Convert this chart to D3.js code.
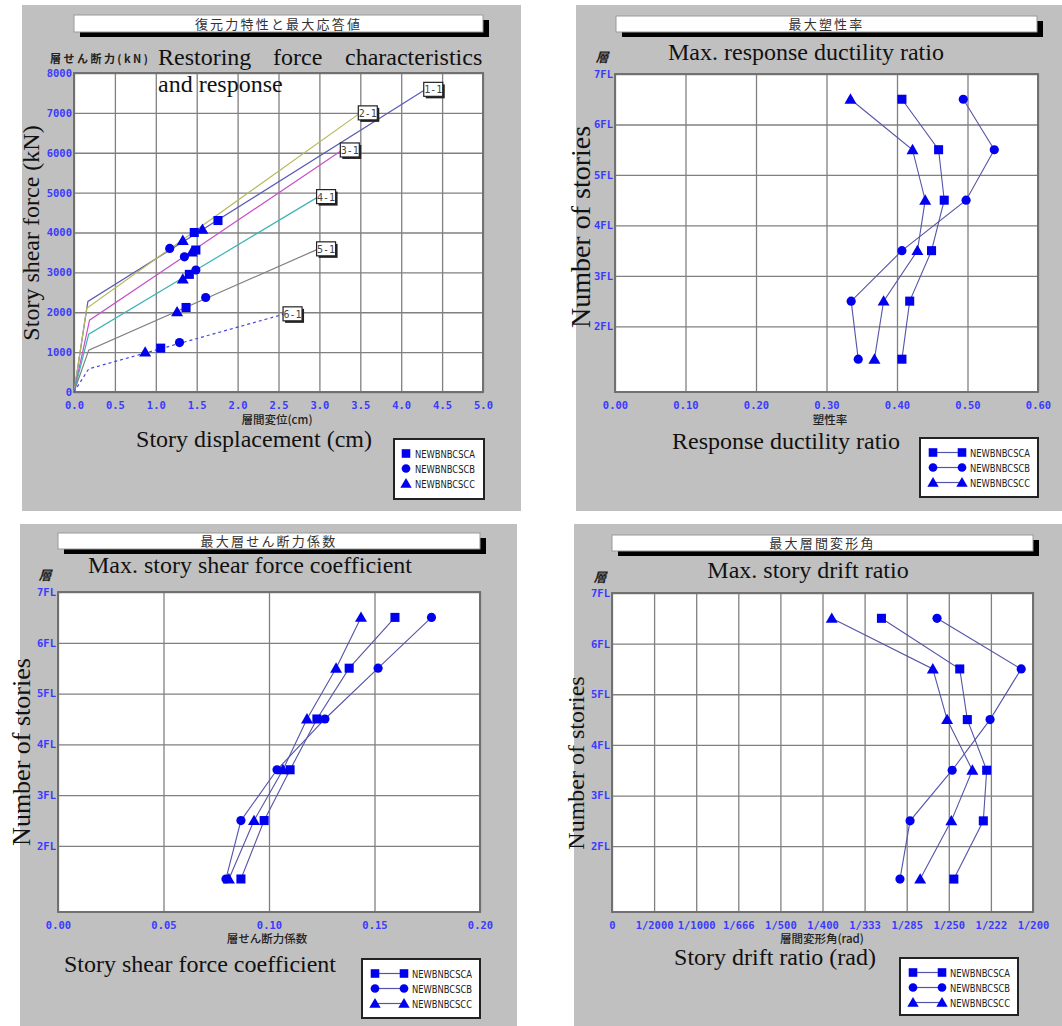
<!DOCTYPE html>
<html>
<head>
<meta charset="utf-8">
<script src="https://cdn.jsdelivr.net/npm/d3@7"></script>
<style>
  body { margin: 0; background: #fff; }
  svg { display: block; }
  .tick text { font-family: "DejaVu Sans Mono", monospace; font-weight: bold; font-size: 10.5px; fill: #3a3aff; }
  .tick line { stroke: #808080; stroke-width: 1.3; }
</style>
</head>
<body>
<svg id="chart" width="1062" height="1026"></svg>
<script>
// ---- data ----
const seriesNames = ["NEWBNBCSCA", "NEWBNBCSCB", "NEWBNBCSCC"];

// restoring force curves: displacement (cm), shear (kN)
const curveNames = ["1-1", "2-1", "3-1", "4-1", "5-1", "6-1"];
const curve11 = [[0, 0], [0.17, 2270], [4.30, 7590]];
const curve21 = [[0, 0], [0.155, 2100], [3.50, 7000]];
const curve31 = [[0, 0], [0.19, 1800], [3.28, 6070]];
const curve41 = [[0, 0], [0.18, 1450], [2.99, 4900]];
const curve51 = [[0, 0], [0.18, 1050], [2.99, 3590]];
const curve61 = [[0, 0], [0.18, 580], [2.58, 1960]];
const curveColors = ["#5a5ab8", "#b8b85a", "#c850c8", "#3cb4b4", "#808080", "#4646dc"];

// max response on the curves
const respA = [[1.76, 4300], [1.47, 4000], [1.49, 3560], [1.41, 2950], [1.37, 2120], [1.06, 1100]];
const respB = [[1.17, 3600], [1.35, 3390], [1.49, 3060], [1.61, 2370], [1.29, 1240]];
const respC = [[1.57, 4080], [1.33, 3800], [1.44, 3510], [1.33, 2830], [1.26, 2010], [0.87, 1000]];

// floors (1st story taller)
const floorLabels = ["1FL", "2FL", "3FL", "4FL", "5FL", "6FL", "7FL"];
const floorElev = [0, 1.3, 2.3, 3.3, 4.3, 5.3, 6.3];

// values per story, story 1 .. story 6
const ductA = [0.407, 0.418, 0.449, 0.467, 0.459, 0.407];
const ductB = [0.345, 0.335, 0.407, 0.498, 0.538, 0.494];
const ductC = [0.368, 0.381, 0.429, 0.440, 0.422, 0.334];

const coefA = [0.0867, 0.0977, 0.110, 0.1227, 0.138, 0.1597];
const coefB = [0.0796, 0.0867, 0.1038, 0.1265, 0.1517, 0.177];
const coefC = [0.081, 0.0929, 0.1066, 0.118, 0.1318, 0.1436];

const driftA = [0.00406, 0.00441, 0.00445, 0.00422, 0.00413, 0.00320];
const driftB = [0.00342, 0.00354, 0.00404, 0.00449, 0.00486, 0.00386];
const driftC = [0.00366, 0.00403, 0.00428, 0.00398, 0.00381, 0.00261];

const dispTicks = [0, 0.5, 1, 1.5, 2, 2.5, 3, 3.5, 4, 4.5, 5];
const shearTicks = [0, 1000, 2000, 3000, 4000, 5000, 6000, 7000, 8000];
const ductTicks = [0, 0.1, 0.2, 0.3, 0.4, 0.5, 0.6];
const coefTicks = [0, 0.05, 0.1, 0.15, 0.2];
const driftTicks = [0, 0.0005, 0.001, 0.0015, 0.002, 0.0025, 0.003, 0.0035, 0.004, 0.0045, 0.005];
const driftTickLabels = ["0", "1/2000", "1/1000", "1/666", "1/500", "1/400", "1/333", "1/285", "1/250", "1/222", "1/200"];

// ---- drawing ----
const svg = d3.select("#chart");
const shapes = [d3.symbolSquare, d3.symbolCircle, d3.symbolTriangle];
const shapeSize = [82, 66, 62];
const markColor = "#0000ee";
const lineColor = "#5454a8";
const serif = "'Liberation Serif', 'Times New Roman', serif";
const jp = "'Noto Sans CJK JP', sans-serif";

function panelBg(x0, y0, x1, y1) {
  svg.append("rect").attr("x", x0).attr("y", y0).attr("width", x1 - x0).attr("height", y1 - y0)
    .attr("fill", "#c0c0c0");
}

function titleBox(x0, y0, x1, y1, txt) {
  svg.append("rect").attr("x", x0 + 6).attr("y", y0 + 5).attr("width", x1 - x0).attr("height", y1 - y0)
    .attr("fill", "#000");
  svg.append("rect").attr("x", x0).attr("y", y0).attr("width", x1 - x0).attr("height", y1 - y0)
    .attr("fill", "#fff").attr("stroke", "#999").attr("stroke-width", 1);
  svg.append("text").attr("x", (x0 + x1) / 2).attr("y", y1 - 3.5)
    .attr("text-anchor", "middle").attr("font-family", jp).attr("font-size", 13)
    .attr("letter-spacing", 2.2).attr("fill", "#333").text(txt);
}

function bigText(x, y, txt, anchor, size) {
  return svg.append("text").attr("x", x).attr("y", y).attr("text-anchor", anchor || "middle")
    .attr("font-family", serif).attr("font-size", size || 24).attr("fill", "#111").text(txt);
}

function vertText(cx, cy, txt, size) {
  svg.append("text").attr("transform", `translate(${cx},${cy}) rotate(-90)`)
    .attr("text-anchor", "middle").attr("dy", "0.35em")
    .attr("font-family", serif).attr("font-size", size || 24).attr("fill", "#111").text(txt);
}

function jpText(x, y, txt, anchor, size) {
  return svg.append("text").attr("x", x).attr("y", y).attr("text-anchor", anchor || "middle")
    .attr("font-family", jp).attr("font-size", size || 11.5).attr("font-weight", 500)
    .attr("fill", "#222").text(txt);
}

function plotArea(box, xScale, yScale, xTicks, xFmt, yTicks, yFmt) {
  const g = svg.append("g");
  g.append("rect").attr("x", box.x0).attr("y", box.y0)
    .attr("width", box.x1 - box.x0).attr("height", box.y1 - box.y0).attr("fill", "#fff");
  const ax = g.append("g").attr("transform", `translate(0,${box.y1})`)
    .call(d3.axisBottom(xScale).tickValues(xTicks).tickFormat(xFmt)
      .tickSize(-(box.y1 - box.y0)).tickPadding(10));
  ax.select(".domain").remove();
  const ay = g.append("g").attr("transform", `translate(${box.x0},0)`)
    .call(d3.axisLeft(yScale).tickValues(yTicks).tickFormat(yFmt)
      .tickSize(-(box.x1 - box.x0)).tickPadding(2));
  ay.select(".domain").remove();
  g.append("rect").attr("x", box.x0).attr("y", box.y0)
    .attr("width", box.x1 - box.x0).attr("height", box.y1 - box.y0)
    .attr("fill", "none").attr("stroke", "#707070").attr("stroke-width", 2);
  return g;
}

function legend(x0, y0, x1, y1, withLines) {
  svg.append("rect").attr("x", x0).attr("y", y0).attr("width", x1 - x0).attr("height", y1 - y0)
    .attr("fill", "#fff").attr("stroke", "#222").attr("stroke-width", 2);
  seriesNames.forEach((name, i) => {
    const cy = y0 + 14.5 + i * 15;
    const sym = d3.symbol().type(shapes[i]).size(shapeSize[i] * 0.9);
    let tx;
    if (withLines) {
      const mx0 = x0 + 13, mx1 = x0 + 42;
      svg.append("line").attr("x1", mx0).attr("x2", mx1).attr("y1", cy).attr("y2", cy)
        .attr("stroke", lineColor).attr("stroke-width", 1.2);
      [mx0, mx1].forEach(mx => svg.append("path").attr("d", sym())
        .attr("transform", `translate(${mx},${cy + (i === 2 ? 1 : 0)})`).attr("fill", markColor));
      tx = x0 + 50;
    } else {
      svg.append("path").attr("d", sym())
        .attr("transform", `translate(${x0 + 12},${cy + (i === 2 ? 1 : 0)})`).attr("fill", markColor);
      tx = x0 + 21;
    }
    svg.append("text").attr("x", tx).attr("y", cy + 4)
      .attr("font-family", "'DejaVu Sans Condensed', 'DejaVu Sans', sans-serif")
      .attr("font-size", 11).attr("textLength", 60).attr("lengthAdjust", "spacingAndGlyphs")
      .attr("fill", "#202020").text(name);
  });
}

function storyPanel(box, xScale, xTicks, xFmt, vals) {
  const yScale = d3.scaleLinear().domain([floorElev[0], floorElev[floorElev.length - 1]]).range([box.y1, box.y0]);
  const g = plotArea(box, xScale, yScale, xTicks, xFmt, floorElev.slice(1), (d, i) => floorLabels[i + 1]);
  const mids = d3.range(floorElev.length - 1).map(i => (floorElev[i] + floorElev[i + 1]) / 2);
  const line = d3.line().x(d => xScale(d[0])).y(d => yScale(d[1]));
  vals.forEach((v, s) => {
    const pts = v.map((d, i) => [d, mids[i]]);
    g.append("path").attr("d", line(pts)).attr("fill", "none")
      .attr("stroke", lineColor).attr("stroke-width", 1.1);
  });
  vals.forEach((v, s) => {
    const sym = d3.symbol().type(shapes[s]).size(shapeSize[s]);
    g.selectAll(null).data(v).enter().append("path").attr("d", sym())
      .attr("transform", (d, i) => `translate(${xScale(d)},${yScale(mids[i]) + (s === 2 ? 1 : 0)})`)
      .attr("fill", markColor);
  });
}

// ---------- panel 1: restoring force ----------
panelBg(22, 5, 521, 511);
titleBox(74, 15, 483, 32, "復元力特性と最大応答値");
{
  const box = { x0: 74, y0: 73, x1: 483, y1: 392 };
  const x = d3.scaleLinear().domain([0, 5]).range([box.x0, box.x1]);
  const y = d3.scaleLinear().domain([0, 8000]).range([box.y1, box.y0]);
  const g = plotArea(box, x, y, dispTicks, d3.format(".1f"), shearTicks, d3.format("d"));
  const curves = [curve11, curve21, curve31, curve41, curve51, curve61];
  const line = d3.line().x(d => x(d[0])).y(d => y(d[1]));
  curves.forEach((c, i) => {
    g.append("path").attr("d", line(c)).attr("fill", "none").attr("stroke", curveColors[i])
      .attr("stroke-width", 1.2).attr("stroke-dasharray", i === 5 ? "3,3" : null);
  });
  curves.forEach((c, i) => {
    const end = c[c.length - 1];
    const bx = x(end[0]) - 2, by = y(end[1]) - 7;
    g.append("rect").attr("x", bx + 2).attr("y", by + 2).attr("width", 19).attr("height", 14).attr("fill", "#222");
    g.append("rect").attr("x", bx).attr("y", by).attr("width", 19).attr("height", 14)
      .attr("fill", "#fff").attr("stroke", "#222").attr("stroke-width", 1.2);
    g.append("text").attr("x", bx + 9.5).attr("y", by + 11).attr("text-anchor", "middle")
      .attr("font-family", "'DejaVu Sans Mono', monospace").attr("font-size", 10)
      .attr("fill", "#444").text(curveNames[i]);
  });
  [respA, respB, respC].forEach((r, s) => {
    const sym = d3.symbol().type(shapes[s]).size(shapeSize[s]);
    g.selectAll(null).data(r).enter().append("path").attr("d", sym())
      .attr("transform", d => `translate(${x(d[0])},${y(d[1]) + (s === 2 ? 1 : 0)})`)
      .attr("fill", markColor);
  });
}
jpText(50, 63, "層せん断力(kN)", "start", 11).attr("font-weight", "bold").attr("textLength", 98);
bigText(158, 65, "Restoring", "start");
bigText(273, 65, "force", "start");
bigText(345, 65, "characteristics", "start");
bigText(158, 92, "and response", "start");
vertText(31, 233, "Story shear force (kN)");
jpText(277, 424, "層間変位(cm)");
bigText(254, 447, "Story displacement (cm)");
legend(394, 439, 484, 499, false);

// ---------- panel 2: ductility ----------
panelBg(576, 5, 1062, 511);
titleBox(616, 16, 1037, 32, "最大塑性率");
storyPanel({ x0: 615, y0: 74, x1: 1038, y1: 392 },
  d3.scaleLinear().domain([0, 0.6]).range([615, 1038]), ductTicks, d3.format(".2f"),
  [ductA, ductB, ductC]);
jpText(602, 62, "層", "middle", 13).attr("font-weight", "bold").attr("font-style", "italic");
bigText(806, 60, "Max. response ductility ratio");
vertText(580, 227, "Number of stories", 28);
jpText(830, 424, "塑性率");
bigText(786, 449, "Response ductility ratio");
legend(920, 438, 1038, 497, true);

// ---------- panel 3: shear coefficient ----------
panelBg(20, 524, 517, 1026);
titleBox(58, 533, 480, 549, "最大層せん断力係数");
storyPanel({ x0: 58, y0: 592, x1: 480, y1: 912 },
  d3.scaleLinear().domain([0, 0.2]).range([58, 480]), coefTicks, d3.format(".2f"),
  [coefA, coefB, coefC]);
jpText(45, 580, "層", "middle", 13).attr("font-weight", "bold").attr("font-style", "italic");
bigText(250, 573, "Max. story shear force coefficient");
vertText(21, 752, "Number of stories", 26);
jpText(267, 943, "層せん断力係数");
bigText(200, 972, "Story shear force coefficient");
legend(362, 959, 480, 1018, true);

// ---------- panel 4: drift ratio ----------
panelBg(574, 524, 1062, 1026);
titleBox(612, 535, 1033, 551, "最大層間変形角");
storyPanel({ x0: 612, y0: 593, x1: 1033, y1: 912 },
  d3.scaleLinear().domain([0, 0.005]).range([612, 1033]), driftTicks, (d, i) => driftTickLabels[i],
  [driftA, driftB, driftC]);
jpText(600, 582, "層", "middle", 13).attr("font-weight", "bold").attr("font-style", "italic");
bigText(808, 578, "Max. story drift ratio");
vertText(576, 763, "Number of stories", 24);
jpText(822, 943, "層間変形角(rad)");
bigText(775, 965, "Story drift ratio (rad)");
legend(900, 958, 1018, 1015, true);
</script>
</body>
</html>
